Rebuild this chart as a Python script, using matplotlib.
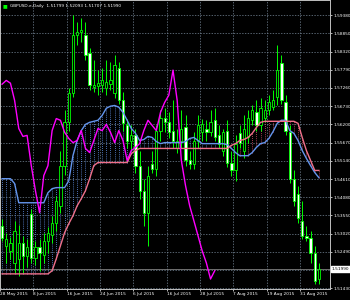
import matplotlib
matplotlib.use("Agg")
import matplotlib.pyplot as plt
import numpy as np

# daily GBPUSD bars, 20 May .. 4 Sep 2015
opens = [1.5325, 1.5267, 1.5252, 1.5217, 1.5229, 1.5275, 1.5237, 1.5360, 1.5232, 1.5264,
         1.5240, 1.5282, 1.5299, 1.5334, 1.5383, 1.5500, 1.5626, 1.5710, 1.5880, 1.5889,
         1.5880, 1.5827, 1.5728, 1.5731, 1.5734, 1.5725, 1.5737, 1.5710, 1.5783, 1.5690,
         1.5617, 1.5573, 1.5588, 1.5500, 1.5427, 1.5363, 1.5506, 1.5491, 1.5602, 1.5640,
         1.5626, 1.5602, 1.5550, 1.5573, 1.5611, 1.5515, 1.5506, 1.5573, 1.5597, 1.5608,
         1.5597, 1.5632, 1.5588, 1.5544, 1.5602, 1.5509, 1.5486, 1.5594, 1.5544, 1.5582,
         1.5632, 1.5655, 1.5617, 1.5640, 1.5661, 1.5670, 1.5699, 1.5798, 1.5684, 1.5597,
         1.5462, 1.5418, 1.5340, 1.5296, 1.5290, 1.5246, 1.5170]
highs = [1.5345, 1.5305, 1.5293, 1.5340, 1.5328, 1.5296, 1.5287, 1.5375, 1.5282, 1.5287,
         1.5305, 1.5322, 1.5354, 1.5413, 1.5544, 1.5661, 1.5725, 1.5938, 1.5918, 1.5929,
         1.5918, 1.5842, 1.5807, 1.5778, 1.5783, 1.5807, 1.5801, 1.5821, 1.5801, 1.5713,
         1.5637, 1.5617, 1.5608, 1.5544, 1.5462, 1.5500, 1.5544, 1.5617, 1.5661, 1.5667,
         1.5655, 1.5690, 1.5608, 1.5661, 1.5646, 1.5544, 1.5597, 1.5646, 1.5637, 1.5632,
         1.5661, 1.5667, 1.5617, 1.5608, 1.5632, 1.5544, 1.5588, 1.5617, 1.5646, 1.5661,
         1.5675, 1.5690, 1.5696, 1.5690, 1.5705, 1.5719, 1.5851, 1.5821, 1.5705, 1.5617,
         1.5486, 1.5442, 1.5398, 1.5325, 1.5310, 1.5267, 1.5217]
lows = [1.5282, 1.5217, 1.5229, 1.5188, 1.5179, 1.5188, 1.5205, 1.5217, 1.5211, 1.5194,
        1.5217, 1.5246, 1.5275, 1.5310, 1.5363, 1.5474, 1.5602, 1.5699, 1.5851, 1.5859,
        1.5807, 1.5719, 1.5713, 1.5705, 1.5713, 1.5705, 1.5719, 1.5696, 1.5678, 1.5602,
        1.5550, 1.5544, 1.5480, 1.5404, 1.5325, 1.5267, 1.5480, 1.5471, 1.5573, 1.5597,
        1.5579, 1.5550, 1.5538, 1.5550, 1.5500, 1.5491, 1.5491, 1.5550, 1.5573, 1.5573,
        1.5585, 1.5573, 1.5550, 1.5529, 1.5497, 1.5471, 1.5456, 1.5550, 1.5521, 1.5567,
        1.5617, 1.5602, 1.5602, 1.5626, 1.5646, 1.5661, 1.5675, 1.5678, 1.5588, 1.5450,
        1.5383, 1.5334, 1.5287, 1.5282, 1.5217, 1.5156, 1.5156]
closes = [1.5290, 1.5287, 1.5275, 1.5310, 1.5275, 1.5237, 1.5264, 1.5232, 1.5264, 1.5246,
          1.5282, 1.5305, 1.5334, 1.5398, 1.5500, 1.5626, 1.5710, 1.5880, 1.5889, 1.5894,
          1.5821, 1.5734, 1.5734, 1.5740, 1.5748, 1.5743, 1.5748, 1.5792, 1.5690, 1.5623,
          1.5573, 1.5588, 1.5500, 1.5427, 1.5363, 1.5471, 1.5491, 1.5602, 1.5640, 1.5626,
          1.5597, 1.5573, 1.5573, 1.5608, 1.5515, 1.5506, 1.5573, 1.5617, 1.5620, 1.5597,
          1.5626, 1.5582, 1.5564, 1.5597, 1.5509, 1.5486, 1.5564, 1.5567, 1.5608, 1.5640,
          1.5661, 1.5617, 1.5667, 1.5661, 1.5684, 1.5690, 1.5778, 1.5690, 1.5602, 1.5462,
          1.5398, 1.5348, 1.5296, 1.5290, 1.5246, 1.5164, 1.5199]

# ichimoku lines
blue_line = [1.5462, 1.5462, 1.5462, 1.5448, 1.5392, 1.5392, 1.5392, 1.5392, 1.5392, 1.5392,
             1.5392, 1.5421, 1.5433, 1.5436, 1.5436, 1.5436, 1.5456, 1.5529, 1.5573, 1.5602,
             1.5620, 1.5626, 1.5629, 1.5632, 1.5646, 1.5667, 1.5673, 1.5675, 1.5670, 1.5655,
             1.5632, 1.5608, 1.5594, 1.5573, 1.5576, 1.5585, 1.5582, 1.5570, 1.5564, 1.5567,
             1.5567, 1.5567, 1.5567, 1.5567, 1.5570, 1.5579, 1.5582, 1.5573, 1.5564, 1.5564,
             1.5564, 1.5564, 1.5564, 1.5564, 1.5561, 1.5550, 1.5538, 1.5529, 1.5529, 1.5529,
             1.5538, 1.5553, 1.5564, 1.5567, 1.5579, 1.5599, 1.5623, 1.5632, 1.5632, 1.5602,
             1.5594, 1.5573, 1.5544, 1.5521, 1.5500, 1.5480, 1.5465]
pink_line = [1.5185, 1.5185, 1.5185, 1.5185, 1.5185, 1.5185, 1.5185, 1.5185, 1.5185, 1.5185,
             1.5185, 1.5185, 1.5194, 1.5229, 1.5267, 1.5305, 1.5331, 1.5354, 1.5383, 1.5404,
             1.5427, 1.5462, 1.5500, 1.5509, 1.5509, 1.5509, 1.5509, 1.5509, 1.5509, 1.5509,
             1.5509, 1.5535, 1.5544, 1.5550, 1.5550, 1.5550, 1.5550, 1.5550, 1.5550, 1.5550,
             1.5550, 1.5550, 1.5550, 1.5550, 1.5550, 1.5550, 1.5550, 1.5550, 1.5550, 1.5550,
             1.5550, 1.5550, 1.5550, 1.5550, 1.5550, 1.5559, 1.5564, 1.5573, 1.5576, 1.5582,
             1.5594, 1.5611, 1.5626, 1.5629, 1.5629, 1.5629, 1.5629, 1.5629, 1.5629, 1.5629,
             1.5629, 1.5623, 1.5582, 1.5544, 1.5515, 1.5486, 1.5486]
chikou = [1.5737, 1.5748, 1.5740, 1.5690, 1.5608, 1.5585, 1.5588, 1.5500, 1.5427, 1.5363,
          1.5471, 1.5500, 1.5602, 1.5637, 1.5632, 1.5597, 1.5579, 1.5567, 1.5573, 1.5602,
          1.5550, 1.5538, 1.5573, 1.5608, 1.5602, 1.5620, 1.5597, 1.5567, 1.5602, 1.5573,
          1.5515, 1.5544, 1.5553, 1.5564, 1.5602, 1.5632, 1.5617, 1.5602, 1.5655, 1.5684,
          1.5705, 1.5778, 1.5690, 1.5515, 1.5442, 1.5383, 1.5340, 1.5296, 1.5252, 1.5217,
          1.5170, 1.5194]

date_labels = ["28 May 2015", "8 Jun 2015", "16 Jun 2015", "24 Jun 2015", "6 Jul 2015",
               "16 Jul 2015", "28 Jul 2015", "7 Aug 2015", "19 Aug 2015", "31 Aug 2015"]
price_ticks = [1.59380, 1.58850, 1.58320, 1.57790, 1.57260, 1.56730, 1.56200, 1.55670,
               1.55140, 1.54610, 1.54080, 1.53550, 1.53020, 1.52490, 1.51960, 1.51430]
header = "GBPUSD.e,Daily  1.51799 1.52093 1.51707 1.51990"

LIME = "#00ff00"
GRID = "#778899"
FS = 3.1

fig = plt.figure(figsize=(3.5, 3.0), dpi=100, facecolor="black")
ax = fig.add_axes([0.0, 11 / 300, 330 / 350, 289 / 300], facecolor="black")

n = len(closes)
idx = np.arange(n)
o = np.array(opens)
c = np.array(closes)

# cloud hatching between the two lines
b = np.array(blue_line)
p = np.array(pink_line)
up = b >= p
ax.vlines(idx[up], p[up], b[up], colors="#6495ed", linestyles=(0, (1, 1.5)), linewidth=0.6)
ax.vlines(idx[~up], b[~up], p[~up], colors="#e0506e", linestyles=(0, (1, 1.5)), linewidth=0.6)

# candles
ax.vlines(idx, lows, highs, colors=LIME, linewidth=0.7, zorder=3)
bull = c >= o
body_lo = np.minimum(o, c)
body_h = np.maximum(np.abs(c - o), 0.00008)
ax.bar(idx[bull], body_h[bull], bottom=body_lo[bull], width=0.55,
       color="black", edgecolor=LIME, linewidth=0.6, zorder=4)
ax.bar(idx[~bull], body_h[~bull], bottom=body_lo[~bull], width=0.55,
       color="white", edgecolor=LIME, linewidth=0.6, zorder=4)

ax.plot(idx, blue_line, color="#6495ed", linewidth=1.0, zorder=5)
ax.plot(idx, pink_line, color="#f0708a", linewidth=1.0, zorder=5)
ax.plot(np.arange(len(chikou)), chikou, color="#ff00ff", linewidth=1.0, zorder=5)

# bid line
ax.axhline(closes[-1], color="#808080", linewidth=0.6, zorder=2)

ax.set_xlim(-0.48, 78.66)
ax.set_ylim(1.5141, 1.5982)

# grid
for k in range(1, 10):
    ax.axvline(8 * k - 0.5, color=GRID, linewidth=0.5, linestyle=(0, (2, 2)), zorder=1)
for t in price_ticks:
    ax.axhline(t, color=GRID, linewidth=0.5, linestyle=(0, (2, 2)), zorder=1)

ax.yaxis.tick_right()
ax.set_yticks(price_ticks)
ax.set_yticklabels([f"{t:.5f}" for t in price_ticks])
ax.set_xticks([8 * k - 0.5 for k in range(len(date_labels))])
ax.set_xticklabels(date_labels, ha="left")
ax.tick_params(colors="white", labelsize=FS, length=1.5, width=0.5, pad=0.8)
for s in ax.spines.values():
    s.set_color("#c0c0c0")
    s.set_linewidth(0.7)

# current price tag
ax.annotate(f"{closes[-1]:.5f}", xy=(1.0, closes[-1]), xycoords=("axes fraction", "data"),
            xytext=(1.2, 0), textcoords="offset points", va="center", ha="left",
            fontsize=FS, color="black",
            bbox=dict(boxstyle="square,pad=0.2", fc="white", ec="white"))

# header
fig.text(3 / 350, 1 - 6 / 300, "\u25a0", color=LIME, fontsize=3.6, va="center")
fig.text(10 / 350, 1 - 6 / 300, header, color="white", fontsize=FS, va="center")

fig.savefig("out.png", dpi=100, facecolor="black")
